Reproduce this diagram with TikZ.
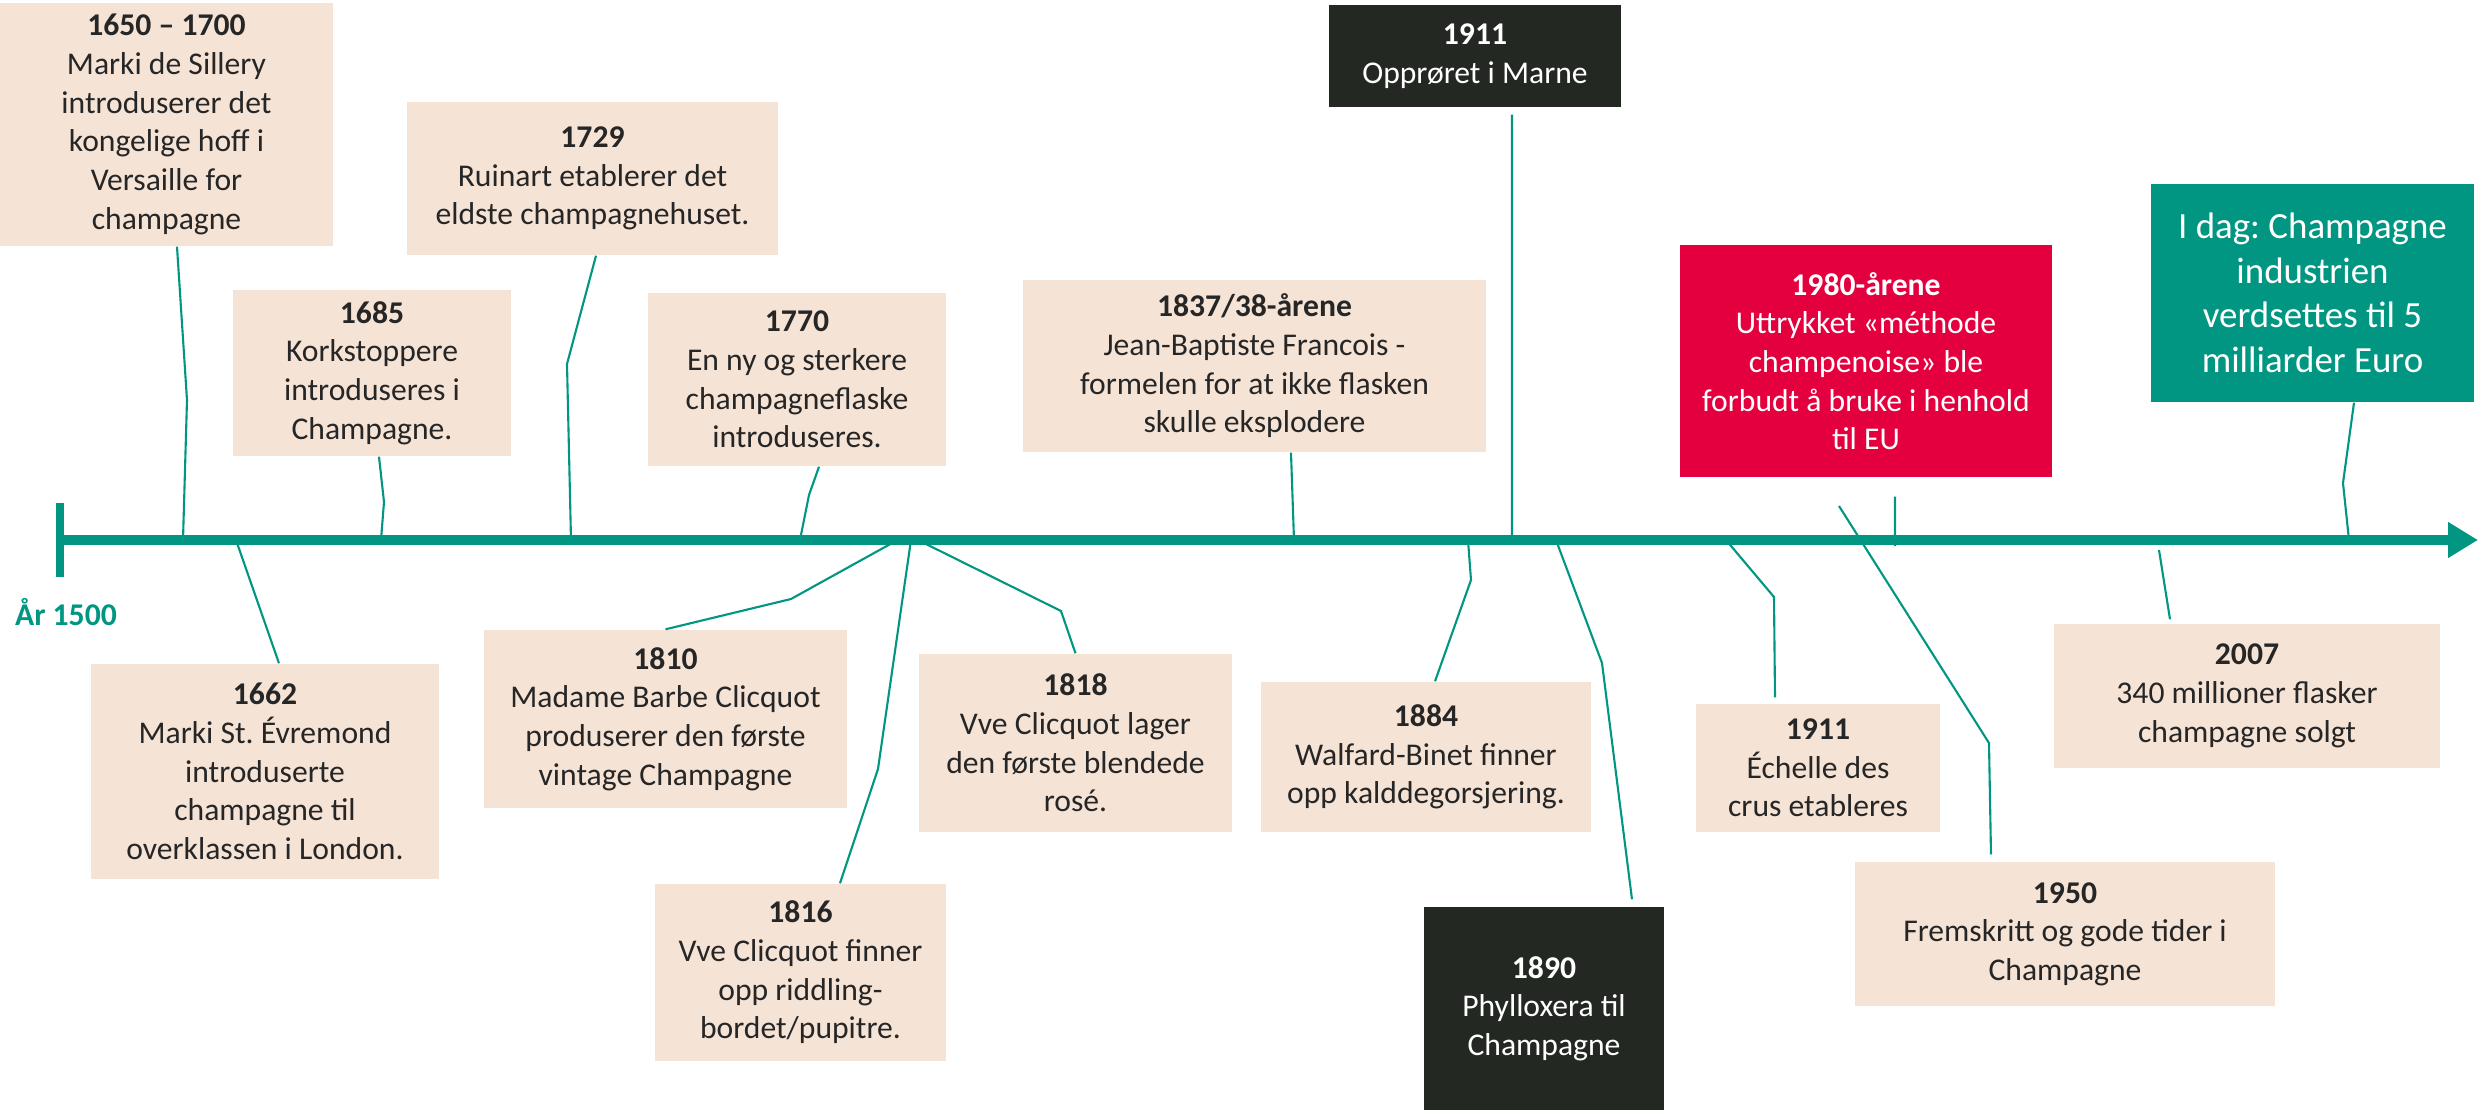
\documentclass[tikz,border=0pt]{standalone}
\usepackage{fontspec}
\setmainfont{Carlito}
\definecolor{champbeige}{RGB}{245,227,214}
\definecolor{nightgreen}{RGB}{35,40,34}
\definecolor{winered}{RGB}{228,0,62}
\definecolor{seateal}{RGB}{0,150,130}
\definecolor{inkgray}{RGB}{38,38,38}
\usetikzlibrary{calc, arrows.meta}
\frenchspacing

\begin{document}
\begin{tikzpicture}[
    event/.style={fill=champbeige, text=inkgray, align=center, inner sep=2pt,
      font=\fontsize{9}{11}\selectfont},
    darkevent/.style={event, fill=nightgreen, text=white},
    redevent/.style={event, fill=winered, text=white},
    todayevent/.style={event, fill=seateal, text=white,
      font=\fontsize{10.5}{12.7}\selectfont},
    dims/.style 2 args={minimum width=#1cm, minimum height=#2cm},
    link/.style={seateal, line width=0.6pt},
    axis/.style={seateal, line width=3.1pt, -{Triangle[length=3mm, width=3.4mm]}},
    tick/.style={seateal, line width=2.3pt},
  ]
    \useasboundingbox (0,0) rectangle (24.84,-11.14);

    % above the axis
    \node[event, dims={3.33}{2.43}] (y1650) at (1.665,-1.245)
      {\textbf{1650 – 1700}\\Marki de Sillery\\introduserer det\\kongelige hoff i\\Versaille for\\champagne};
    \node[event, dims={3.71}{1.53}] (y1729) at (5.925,-1.785)
      {\textbf{1729}\\Ruinart etablerer det\\eldste champagnehuset.};
    \node[event, dims={2.78}{1.66}] (y1685) at (3.72,-3.73)
      {\textbf{1685}\\Korkstoppere\\introduseres i\\Champagne.};
    \node[event, dims={2.98}{1.73}] (y1770) at (7.97,-3.795)
      {\textbf{1770}\\En ny og sterkere\\champagneflaske\\introduseres.};
    \node[event, dims={4.63}{1.72}] (y1837) at (12.545,-3.66)
      {\textbf{1837/38-årene}\\Jean-Baptiste Francois -\\formelen for at ikke flasken\\skulle eksplodere};
    \node[darkevent, dims={2.92}{1.02}] (y1911a) at (14.75,-0.56)
      {\textbf{1911}\\Opprøret i Marne};
    \node[redevent, dims={3.72}{2.32}] (y1980) at (18.66,-3.61)
      {\textbf{1980-årene}\\Uttrykket «méthode\\champenoise» ble\\forbudt å bruke i henhold\\til EU};
    \node[todayevent, dims={3.23}{2.18}] (idag) at (23.125,-2.93)
      {I dag: Champagne\\industrien\\verdsettes til 5\\milliarder Euro};

    % below the axis
    \node[event, dims={3.48}{2.15}] (y1662) at (2.65,-7.715)
      {\textbf{1662}\\Marki St.\ Évremond\\introduserte\\champagne til\\overklassen i London.};
    \node[event, dims={3.63}{1.78}] (y1810) at (6.655,-7.19)
      {\textbf{1810}\\Madame Barbe Clicquot\\produserer den første\\vintage Champagne};
    \node[event, dims={2.91}{1.77}] (y1816) at (8.005,-9.725)
      {\textbf{1816}\\Vve Clicquot finner\\opp riddling-\\bordet/pupitre.};
    \node[event, dims={3.13}{1.78}] (y1818) at (10.755,-7.43)
      {\textbf{1818}\\Vve Clicquot lager\\den første blendede\\rosé.};
    \node[event, dims={3.30}{1.50}] (y1884) at (14.26,-7.57)
      {\textbf{1884}\\Walfard-Binet finner\\opp kalddegorsjering.};
    \node[darkevent, dims={2.40}{2.03}] (y1890) at (15.44,-10.085)
      {\textbf{1890}\\Phylloxera til\\Champagne};
    \node[event, dims={2.44}{1.28}] (y1911b) at (18.18,-7.68)
      {\textbf{1911}\\Échelle des\\crus etableres};
    \node[event, dims={4.20}{1.44}] (y1950) at (20.65,-9.34)
      {\textbf{1950}\\Fremskritt og gode tider i\\Champagne};
    \node[event, dims={3.86}{1.44}] (y2007) at (22.47,-6.96)
      {\textbf{2007}\\340 millioner flasker\\champagne solgt};

    \node[font=\fontsize{9}{11}\selectfont\bfseries, text=seateal] (start1500) at (0.66,-6.12) {År 1500};

    % points on the time line
    \coordinate (start) at (0.60,-5.40);
    \coordinate (end) at (24.78,-5.40);
    \coordinate (a1650) at (1.83,-5.40);
    \coordinate (a1685) at (3.81,-5.40);
    \coordinate (a1729) at (5.71,-5.40);
    \coordinate (a1770) at (8.00,-5.40);
    \coordinate (a1837) at (12.94,-5.40);
    \coordinate (a1911a) at (15.12,-5.40);
    \coordinate (a1980) at (18.95,-5.46);
    \coordinate (aidag) at (23.49,-5.40);
    \coordinate (a1662) at (2.36,-5.40);
    \coordinate (a1810) at (8.94,-5.42);
    \coordinate (a1816) at (9.11,-5.40);
    \coordinate (a1818) at (9.22,-5.42);
    \coordinate (a1884) at (14.68,-5.40);
    \coordinate (a1890) at (15.56,-5.40);
    \coordinate (a1911b) at (17.26,-5.40);
    \coordinate (a1950) at (18.39,-5.06);
    \coordinate (a2007) at (21.59,-5.50);

    \draw[link] ([xshift=1.05mm]y1650.south) -- (1.87,-4.00) -- (a1650);
    \draw[link] ([xshift=0.7mm]y1685.south) -- (3.84,-5.02) -- (a1685);
    \draw[link] ([xshift=0.35mm]y1729.south) -- (5.67,-3.64) -- (a1729);
    \draw[link] ([xshift=2.2mm]y1770.south) -- (8.09,-4.95) -- (a1770);
    \draw[link] ([xshift=3.65mm]y1837.south) -- (a1837);
    \draw[link] ([xshift=3.7mm, yshift=-0.7mm]y1911a.south) -- (a1911a);
    \draw[link] ([xshift=2.9mm, yshift=-1.9mm]y1980.south) -- (a1980);
    \draw[link] ([xshift=4.15mm]idag.south) -- (23.43,-4.83) -- (aidag);
    \draw[link] (a1662) -- ([xshift=1.4mm]y1662.north);
    \draw[link] (a1810) -- (7.91,-5.99) -- (y1810.north);
    \draw[link] (a1816) -- (8.78,-7.69) -- ([xshift=3.95mm]y1816.north);
    \draw[link] (a1818) -- (10.61,-6.11) -- (y1818.north);
    \draw[link] (a1884) -- (14.71,-5.80) -- ([xshift=0.9mm]y1884.north);
    \draw[link] (a1890) -- (16.02,-6.63) -- ([xshift=8.8mm, yshift=0.7mm]y1890.north);
    \draw[link] (a1911b) -- (17.74,-5.97) -- ([xshift=-4.3mm, yshift=0.6mm]y1911b.north);
    \draw[link] (a1950) -- (19.89,-7.43) -- ([xshift=-7.4mm, yshift=0.7mm]y1950.north);
    \draw[link] (a2007) -- ([xshift=-7.7mm, yshift=0.4mm]y2007.north);

    \draw[axis] (start) -- (end);
    \draw[tick] ([yshift=3.7mm]start) -- ([yshift=-3.7mm]start);
  \end{tikzpicture}
\end{document}
